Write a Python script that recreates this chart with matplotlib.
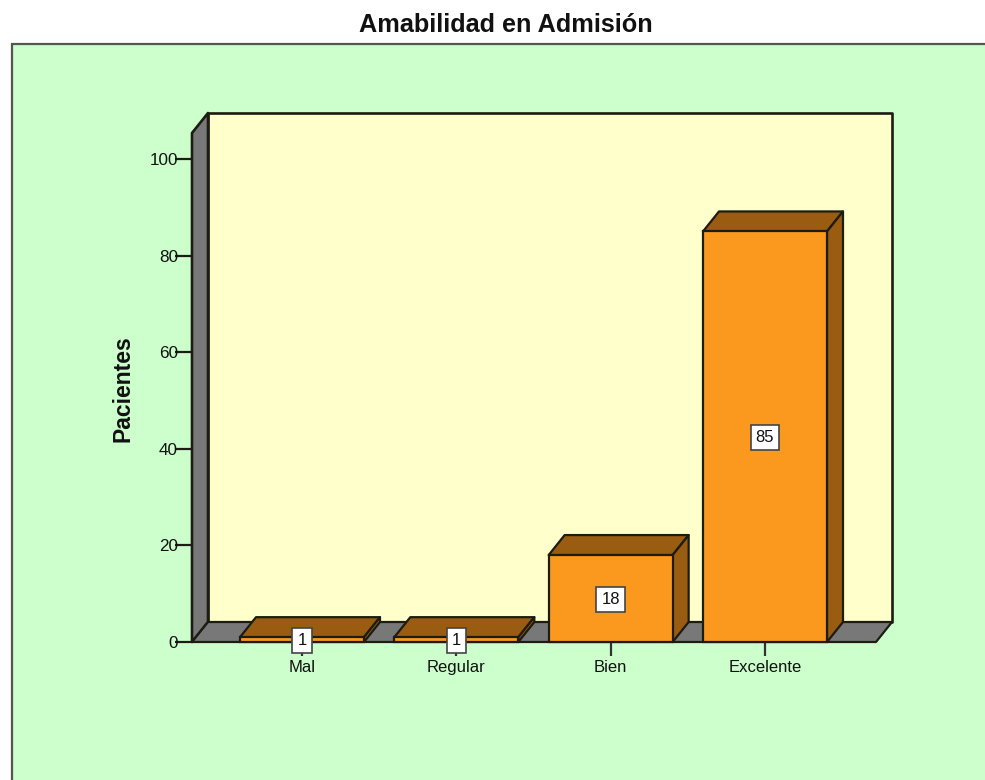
import matplotlib
matplotlib.use("Agg")
import matplotlib.pyplot as plt
from matplotlib.patches import Rectangle, Polygon

categories = ["Mal", "Regular", "Bien", "Excelente"]
values = [1, 1, 18, 85]
yticks = [0, 20, 40, 60, 80, 100]
title = "Amabilidad en Admisión"
ylabel = "Pacientes"

W, H = 985, 780
plt.rcParams["font.family"] = ["Liberation Sans", "DejaVu Sans"]
fig = plt.figure(figsize=(W / 100, H / 100), dpi=100, facecolor="white")

GREEN, YELLOW, GRAY = "#CCFFCC", "#FFFFCC", "#787878"
ORANGE, BROWN, LINE = "#FB991F", "#995C10", "#1c1c12"
LW = 1.6

# outer panel
fig.add_artist(Rectangle((12 / W, -0.1), 1.1, 1 - 44 / H + 0.1, transform=fig.transFigure,
                         facecolor=GREEN, edgecolor="#555555", linewidth=1.6, zorder=-1))
fig.text(505.5 / W, 1 - 25 / H, title, ha="center", va="center", fontsize=18.2,
         fontweight="bold", color="#111111")

# axes: front plane of the 3-D box
x0, x1, y0, ytop = 192, 876, 642, 133
ax = fig.add_axes([x0 / W, 1 - y0 / H, (x1 - x0) / W, (y0 - ytop) / H])
ppx, ppy = 154.33, 4.83
ax.set_xlim((x0 - 302) / ppx, (x1 - 302) / ppx)
ax.set_ylim(0, (y0 - ytop) / ppy)
ax.patch.set_alpha(0)
for s in ax.spines.values():
    s.set_visible(False)
dx, dy = 16 / ppx, 20 / ppy
xa, xb = ax.get_xlim()
ya, yb = ax.get_ylim()

def poly(pts, fc, z, lw=LW):
    ax.add_patch(Polygon(pts, closed=True, facecolor=fc, edgecolor=LINE, linewidth=lw,
                         joinstyle="round", clip_on=False, zorder=z))

poly([(xa + dx, ya + dy), (xb + dx, ya + dy), (xb + dx, yb + dy), (xa + dx, yb + dy)], YELLOW, 1, 1.9)
poly([(xa, ya), (xa + dx, ya + dy), (xa + dx, yb + dy), (xa, yb)], GRAY, 1.1, 1.9)
poly([(xa, ya), (xb, ya), (xb + dx, ya + dy), (xa + dx, ya + dy)], GRAY, 1.1)

bw = 124 / ppx
xs = list(range(len(categories)))
for x, v in zip(xs, values):
    l, r = x - bw / 2, x + bw / 2
    poly([(l, v), (r, v), (r + dx, v + dy), (l + dx, v + dy)], BROWN, 2)
    poly([(r, 0), (r + dx, dy), (r + dx, v + dy), (r, v)], BROWN, 2)
ax.bar(xs, values, width=bw, color=ORANGE, edgecolor=LINE, linewidth=LW, zorder=3, clip_on=False)

for x, v in zip(xs, values):
    ax.text(x, v / 2 - 0.2, str(v), ha="center", va="center", fontsize=12, color="#111111", zorder=6,
            bbox=dict(boxstyle="square,pad=0.3", facecolor="white", edgecolor="#444444", linewidth=1.2))

ax.set_xticks(xs, categories)
ax.set_yticks(yticks, [str(t) for t in yticks])
ax.tick_params(axis="y", length=12, width=1.6, color=LINE, labelsize=12.3, pad=-2, labelcolor="#111111")
ax.tick_params(axis="x", length=10, width=1.6, color="#333333", labelsize=12, pad=3, labelcolor="#111111")
fig.text(123 / W, 1 - 389 / H, ylabel, rotation=90, ha="center", va="center", fontsize=16.5,
         fontweight="bold", color="#111111")

fig.savefig("out.png", dpi=100)
